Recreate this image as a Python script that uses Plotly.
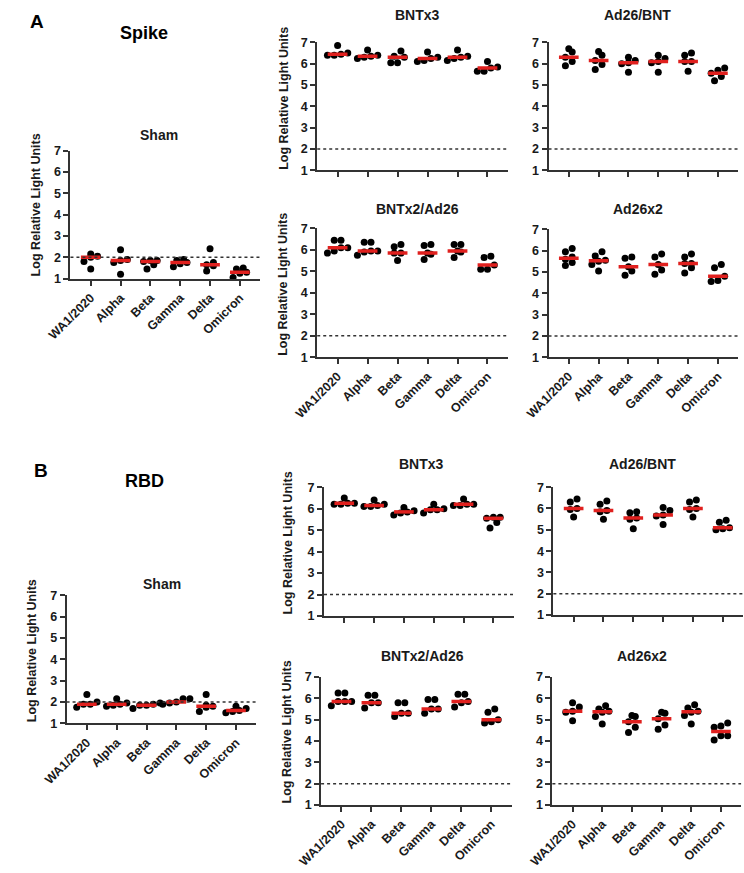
import numpy as np
import plotly.graph_objects as go

# ---------------- data ----------------
variants = ["WA1/2020", "Alpha", "Beta", "Gamma", "Delta", "Omicron"]
y_ticks = [1, 2, 3, 4, 5, 6, 7]
lod = 2

# Spike (A)
spike_sham = [
    [2.05, 1.45, 1.8, 2.15, 2.0],
    [1.9, 2.35, 1.2, 1.85, 1.75],
    [1.85, 1.45, 1.85, 1.65, 1.8],
    [1.9, 1.55, 1.75, 1.7, 1.85],
    [1.6, 1.75, 1.35, 2.4, 1.65],
    [1.25, 1.5, 1.05, 1.45, 1.3],
]
spike_bntx3 = [
    [6.4, 6.45, 6.85, 6.5, 6.4],
    [6.3, 6.35, 6.65, 6.4, 6.25],
    [6.6, 6.05, 6.3, 6.35, 6.05],
    [6.15, 6.55, 6.25, 6.3, 6.1],
    [6.15, 6.65, 6.3, 6.35, 6.25],
    [5.65, 6.1, 5.8, 5.85, 5.65],
]
spike_ad26_bnt = [
    [6.7, 5.9, 6.55, 6.3, 6.1],
    [6.57, 5.73, 6.15, 6.4, 5.96],
    [6.05, 6.15, 5.6, 6.3, 6.0],
    [6.4, 6.25, 5.6, 6.05, 6.1],
    [6.1, 6.4, 5.65, 6.5, 6.1],
    [5.2, 5.55, 5.8, 5.7, 5.4],
]
spike_bntx2_ad26 = [
    [5.85, 6.1, 6.45, 6.45, 5.95, 6.1],
    [5.75, 5.95, 6.35, 6.35, 5.95, 5.9],
    [5.85, 5.5, 6.15, 6.25, 5.85],
    [5.55, 5.85, 6.2, 6.25, 5.8],
    [5.65, 5.95, 6.25, 6.25, 5.9],
    [5.1, 5.65, 5.3, 5.7, 5.1],
]
spike_ad26x2 = [
    [6.1, 5.3, 5.95, 5.6, 5.7, 5.45],
    [5.55, 5.95, 5.05, 5.75, 5.35, 5.5],
    [4.85, 5.65, 5.7, 5.05, 5.25],
    [5.7, 4.9, 5.35, 5.85, 5.1],
    [5.85, 5.4, 5.2, 4.95, 5.4, 5.7],
    [5.35, 4.55, 5.2, 4.8, 4.6],
]

# RBD (B)
rbd_sham = [
    [2.0, 1.75, 2.35, 1.9, 1.9],
    [1.85, 1.9, 2.15, 1.8, 1.95],
    [1.85, 1.95, 1.9, 1.7, 1.85],
    [1.9, 2.15, 2.0, 2.15, 1.95],
    [1.75, 1.55, 2.35, 1.85, 1.8],
    [1.55, 1.7, 1.6, 1.8, 1.5],
]
rbd_bntx3 = [
    [6.2, 6.5, 6.2, 6.25, 6.25],
    [6.1, 6.4, 6.15, 6.1, 6.2],
    [5.8, 6.05, 5.85, 5.7, 5.9],
    [5.95, 6.2, 6.0, 5.8, 5.95],
    [6.15, 6.45, 6.2, 6.2, 6.15],
    [5.1, 5.55, 5.6, 5.35, 5.6],
]
rbd_ad26_bnt = [
    [6.0, 6.3, 5.6, 6.45, 5.95],
    [5.9, 6.2, 5.5, 6.35, 5.85],
    [5.55, 5.85, 5.05, 5.8, 5.5],
    [5.7, 6.05, 5.25, 5.9, 5.65],
    [6.0, 6.3, 5.6, 6.4, 5.95],
    [5.35, 5.0, 5.1, 5.45, 5.05],
]
rbd_bntx2_ad26 = [
    [5.65, 5.85, 6.25, 6.25, 5.85, 5.85],
    [5.55, 6.15, 6.15, 5.8, 5.8],
    [5.15, 5.8, 5.8, 5.3, 5.3],
    [5.3, 5.95, 5.95, 5.5, 5.5],
    [5.6, 6.2, 6.2, 5.85, 5.8],
    [4.85, 5.35, 5.0, 5.5, 4.9],
]
rbd_ad26x2 = [
    [5.8, 4.95, 5.6, 5.4, 5.35],
    [5.4, 5.5, 4.8, 5.65, 5.15, 5.35],
    [5.15, 4.4, 4.9, 5.2, 4.65],
    [5.3, 4.55, 5.05, 5.35, 4.75],
    [5.4, 5.55, 4.8, 5.7, 5.35, 5.2],
    [4.85, 4.05, 4.65, 4.7, 4.25, 4.25],
]

# ---------------- layout helpers ----------------
W, H = 744, 873
FONT = "Liberation Sans, Arial, sans-serif"
TXT = "#1a1a1a"
AXC = "#333333"
RED = "#e0201e"


def px(x):
    return x / W


def py(y):
    return 1 - y / H


panels = [
    dict(title="Sham", data=spike_sham, xd=(48, 244), yd=(146, 276), xl=True,
         tpos=(139, 130), ytpos=(12, 201)),
    dict(title="BNTx3", data=spike_bntx3, xd=(303, 500), yd=(36, 166), xl=False,
         tpos=(407, 8), ytpos=(268, 93)),
    dict(title="Ad26/BNT", data=spike_ad26_bnt, xd=(542, 738), yd=(36, 166), xl=False,
         tpos=(634, 8), ytpos=None),
    dict(title="BNTx2/Ad26", data=spike_bntx2_ad26, xd=(303, 500), yd=(225, 356), xl=True,
         tpos=(407, 205), ytpos=(268, 282)),
    dict(title="Ad26x2", data=spike_ad26x2, xd=(542, 738), yd=(226, 356), xl=True,
         tpos=(634, 205), ytpos=None),
    dict(title="Sham", data=rbd_sham, xd=(44, 240), yd=(598, 728), xl=True,
         tpos=(143, 586), ytpos=(8, 654)),
    dict(title="BNTx3", data=rbd_bntx3, xd=(310, 506), yd=(488, 619), xl=False,
         tpos=(411, 464), ytpos=(273, 545)),
    dict(title="Ad26/BNT", data=rbd_ad26_bnt, xd=(547, 743), yd=(488, 618), xl=False,
         tpos=(639, 464), ytpos=None),
    dict(title="BNTx2/Ad26", data=rbd_bntx2_ad26, xd=(307, 504), yd=(681, 811), xl=True,
         tpos=(412, 660), ytpos=(272, 737)),
    dict(title="Ad26x2", data=rbd_ad26x2, xd=(546, 741), yd=(681, 811), xl=True,
         tpos=(639, 660), ytpos=None),
]

XR = [-0.68, 5.68]
YR = [1, 7]
DOT = 7.0


def row_offsets(values, ppc, ppu, diam):
    """GraphPad-like scatter: points with close values share a row, centred on the category."""
    vals = np.asarray(values, dtype=float)
    order = np.argsort(vals, kind="stable")
    rows = []
    for idx in order:
        if rows and (vals[idx] - vals[rows[-1][0]]) * ppu < diam * 0.8:
            rows[-1].append(idx)
        else:
            rows.append([idx])
    step = diam * 1.0 / ppc
    offs = np.zeros(len(vals))
    for r in rows:
        k = len(r)
        for j, idx in enumerate(r):
            offs[idx] = (j - (k - 1) / 2) * step
    return offs


fig = go.Figure()
annotations = []
shapes = []
layout_axes = {}

for k, p in enumerate(panels):
    n = k + 1
    xa = "x" if n == 1 else f"x{n}"
    ya = "y" if n == 1 else f"y{n}"
    xkey = "xaxis" if n == 1 else f"xaxis{n}"
    ykey = "yaxis" if n == 1 else f"yaxis{n}"
    x0, x1 = p["xd"]
    ytop, ybot = p["yd"]
    ppc = (x1 - x0) / (XR[1] - XR[0])
    ppu = (ybot - ytop) / (YR[1] - YR[0])

    xs, ys = [], []
    for i, vals in enumerate(p["data"]):
        offs = row_offsets(vals, ppc, ppu, DOT)
        xs += list(i + offs)
        ys += list(vals)
    fig.add_trace(go.Scatter(
        x=xs, y=ys, mode="markers", xaxis=xa, yaxis=ya, cliponaxis=False,
        marker=dict(size=DOT, color="black", line=dict(width=0)),
        showlegend=False, hoverinfo="y"))
    mx, my = [], []
    for i, vals in enumerate(p["data"]):
        m = float(np.median(vals))
        mx += [i - 0.33, i + 0.33, None]
        my += [m, m, None]
    fig.add_trace(go.Scatter(
        x=mx, y=my, mode="lines", xaxis=xa, yaxis=ya, cliponaxis=False,
        line=dict(color=RED, width=3.5), showlegend=False, hoverinfo="skip"))

    shapes.append(dict(type="line", xref=f"{xa} domain", yref=ya, x0=0, x1=1,
                       y0=lod, y1=lod, line=dict(color=AXC, width=1.5, dash="dot")))

    layout_axes[xkey] = dict(
        domain=[px(x0), px(x1)], anchor=ya, range=XR, tickmode="array",
        tickvals=list(range(len(variants))), ticktext=variants if p["xl"] else [""] * 6,
        showticklabels=p["xl"], tickangle=-45, ticks="outside", ticklen=5, tickwidth=1.5,
        tickcolor=AXC, showline=True, linecolor=AXC, linewidth=2, showgrid=False,
        zeroline=False, fixedrange=True,
        tickfont=dict(family=FONT, size=12.5, color=TXT, weight="bold"))
    layout_axes[ykey] = dict(
        domain=[py(ybot), py(ytop)], anchor=xa, range=YR, tickmode="array",
        tickvals=y_ticks, ticks="outside", ticklen=5, tickwidth=1.5, tickcolor=AXC,
        showline=True, linecolor=AXC, linewidth=2, showgrid=False, zeroline=False,
        fixedrange=True, tickfont=dict(family=FONT, size=12.5, color=TXT, weight="bold"))

    tx, ty = p["tpos"]
    annotations.append(dict(text=p["title"], x=px(tx), y=py(ty), xref="paper", yref="paper",
                            showarrow=False, xanchor="center", yanchor="middle",
                            font=dict(family=FONT, size=14, color=TXT, weight="bold")))
    if p["ytpos"]:
        yx, yy = p["ytpos"]
        annotations.append(dict(text="Log Relative Light Units", x=px(yx), y=py(yy),
                                xref="paper", yref="paper", showarrow=False, textangle=-90,
                                xanchor="center", yanchor="middle",
                                font=dict(family=FONT, size=12.5, color=TXT, weight="bold")))

for text, x, y, size in [("A", 13, 15, 19), ("Spike", 124, 26, 18),
                         ("B", 18, 471, 19), ("RBD", 124, 482, 18)]:
    annotations.append(dict(text=text, x=px(x), y=py(y), xref="paper", yref="paper",
                            showarrow=False, xanchor="center", yanchor="middle",
                            font=dict(family=FONT, size=size, color="black", weight="bold")))

fig.update_layout(
    width=W, height=H, autosize=False,
    margin=dict(l=0, r=0, t=0, b=0, pad=0),
    paper_bgcolor="white", plot_bgcolor="white",
    annotations=annotations, shapes=shapes,
    font=dict(family=FONT, color=TXT),
    **layout_axes)

fig.write_html("out.html", config={"displayModeBar": False},
               post_script="document.body.style.margin='0';")
